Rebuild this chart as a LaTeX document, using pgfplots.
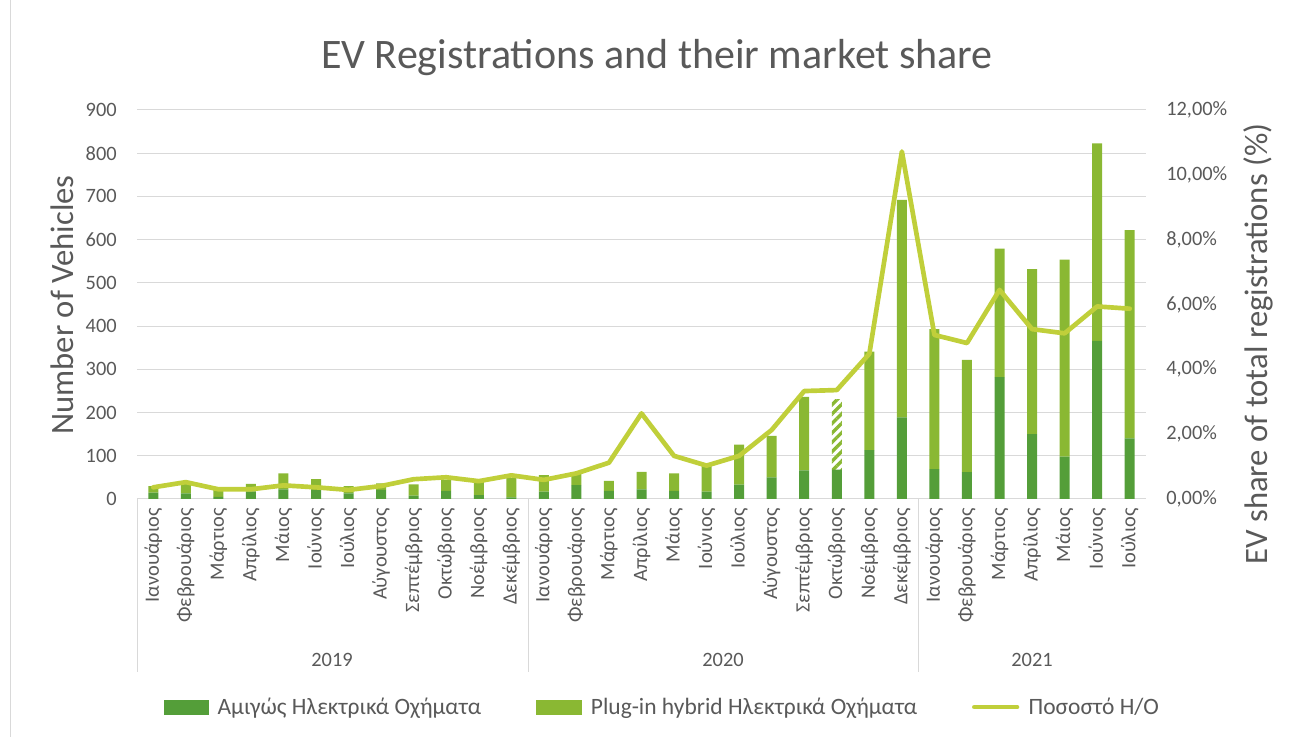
\documentclass[border=0pt]{standalone}
\usepackage{pgfplots}
\pgfplotsset{compat=1.18}
\usepackage{pgfplotstable}
\usepackage{fontspec}
\setmainfont{Carlito}
\usetikzlibrary{patterns.meta}
\pgfplotsset{/pgf/number format/assume math mode=true}

\definecolor{bevgreen}{HTML}{549E39}
\definecolor{phevgreen}{HTML}{8AB833}
\definecolor{shareline}{HTML}{C0CF3A}
\definecolor{txtgray}{HTML}{595959}
\definecolor{gridgray}{HTML}{D9D9D9}

% x = month index (0 = Jan 2019), bev / phev = vehicles, phevh = hatched part (Oct 2020), share in %
\pgfplotstableread{
x  bev phev phevh share
0  15  15   0    0.36
1  13  22   0    0.52
2  5   20   0    0.30
3  17  18   0    0.30
4  22  37   0    0.42
5  21  25   0    0.36
6  13  17   0    0.28
7  21  15   0    0.40
8  8   26   0    0.61
9  19  26   0    0.67
10 9   31   0    0.55
11 4   44   0    0.73
12 17  38   0    0.59
13 32  28   0    0.79
14 19  23   0    1.12
15 22  41   0    2.64
16 19  40   0    1.33
17 17  61   0    1.03
18 33  93   0    1.33
19 50  96   0    2.13
20 66  170  0    3.33
21 68  0    163  3.36
22 113 228  0    4.48
23 189 503  0    10.72
24 69  324  0    5.06
25 62  260  0    4.81
26 282 297  0    6.45
27 150 382  0    5.24
28 98  456  0    5.11
29 366 457  0    5.94
30 140 482  0    5.87
}\evdata

\begin{document}
\begin{tikzpicture}
\path[use as bounding box] (0,0) rectangle (967.5pt,552.75pt);
\draw[gridgray, line width=0.75pt] (7.5pt,0) -- (7.5pt,552.75pt);

\begin{axis}[
    at={(102.75pt,178.5pt)}, anchor=south west,
    scale only axis, width=756.75pt, height=291.75pt,
    ybar stacked, bar width=7.5pt,
    xmin=-0.5, xmax=30.5, ymin=0, ymax=900,
    ytick distance=100,
    xtick={0,...,30},
    xticklabels={Ιανουάριος,Φεβρουάριος,Μάρτιος,Απρίλιος,Μάιος,Ιούνιος,Ιούλιος,Αύγουστος,Σεπτέμβριος,Οκτώβριος,Νοέμβριος,Δεκέμβριος,
                 Ιανουάριος,Φεβρουάριος,Μάρτιος,Απρίλιος,Μάιος,Ιούνιος,Ιούλιος,Αύγουστος,Σεπτέμβριος,Οκτώβριος,Νοέμβριος,Δεκέμβριος,
                 Ιανουάριος,Φεβρουάριος,Μάρτιος,Απρίλιος,Μάιος,Ιούνιος,Ιούλιος},
    axis lines*=left,
    y axis line style={draw=none},
    x axis line style={gridgray, line width=0.75pt},
    major tick length=0pt, tick style={draw=none},
    ymajorgrids, grid style={gridgray, line width=0.75pt},
    yticklabel style={font=\fontsize{15.3}{18}\selectfont, text=txtgray, inner sep=0pt},
    yticklabel shift=15pt,
    xticklabel style={font=\fontsize{15.3}{18}\selectfont, text=txtgray, rotate=90, anchor=east, inner sep=0pt},
    xticklabel shift=6.75pt,
]
\addplot[fill=bevgreen, draw=none] table[x=x, y=bev] {\evdata};
\addplot[fill=phevgreen, draw=none] table[x=x, y=phev] {\evdata};
\addplot[draw=none, pattern={Lines[angle=45,distance=5pt,line width=2.5pt]}, pattern color=phevgreen] table[x=x, y=phevh] {\evdata};
\end{axis}

\begin{axis}[
    at={(102.75pt,178.5pt)}, anchor=south west,
    scale only axis, width=756.75pt, height=291.75pt,
    xmin=-0.5, xmax=30.5, ymin=0, ymax=12,
    ytick distance=2,
    axis y line*=right, axis x line=none,
    y axis line style={draw=none},
    major tick length=0pt, tick style={draw=none},
    yticklabel={\pgfmathprintnumber[fixed,fixed zerofill,precision=2,use comma]{\tick}\%},
    yticklabel style={font=\fontsize{15.3}{18}\selectfont, text=txtgray, anchor=west, inner sep=0pt},
    yticklabel shift=15pt,
    legend columns=3,
    legend style={at={(0.521,-0.535)}, anchor=center, draw=none, fill=none,
        font=\fontsize{17.6}{20}\selectfont, text=txtgray,
        /tikz/every even column/.append style={column sep=39pt},
        /tikz/every odd column/.append style={column sep=5pt}},
]
\addlegendimage{legend image code/.code={\fill[bevgreen] (0pt,-5.25pt) rectangle (33pt,5.25pt);}}
\addlegendentry{Αμιγώς Ηλεκτρικά Οχήματα}
\addlegendimage{legend image code/.code={\fill[phevgreen] (0pt,-5.25pt) rectangle (34pt,5.25pt);}}
\addlegendentry{Plug-in hybrid Ηλεκτρικά Οχήματα}
\addplot[shareline, line width=3.5pt, line join=round, line cap=round,
    legend image code/.code={\draw[shareline, line width=3.5pt, line cap=round] (2pt,0pt) -- (34pt,0pt);}]
    table[x=x, y=share] {\evdata};
\addlegendentry{Ποσοστό Η/Ο}
\end{axis}

\node[anchor=base, font=\fontsize{31.5}{38}\selectfont, text=txtgray] at (492.75pt,501.5pt) {EV Registrations and their market share};
\node[rotate=90, font=\fontsize{24.5}{29}\selectfont, text=txtgray] at (46.5pt,324pt) {Number of Vehicles};
\node[rotate=90, font=\fontsize{24.5}{29}\selectfont, text=txtgray] at (943.5pt,294.75pt) {EV share of total registrations (\%)};

\foreach \xx in {102.75,396,688.5}
  \draw[gridgray, line width=0.75pt] (\xx pt,178.5pt) -- (\xx pt,48.75pt);
\node[font=\fontsize{15.3}{18}\selectfont, text=txtgray] at (249pt,57.75pt) {2019};
\node[font=\fontsize{15.3}{18}\selectfont, text=txtgray] at (542.25pt,57.75pt) {2020};
\node[font=\fontsize{15.3}{18}\selectfont, text=txtgray] at (774pt,57.75pt) {2021};
\end{tikzpicture}
\end{document}
